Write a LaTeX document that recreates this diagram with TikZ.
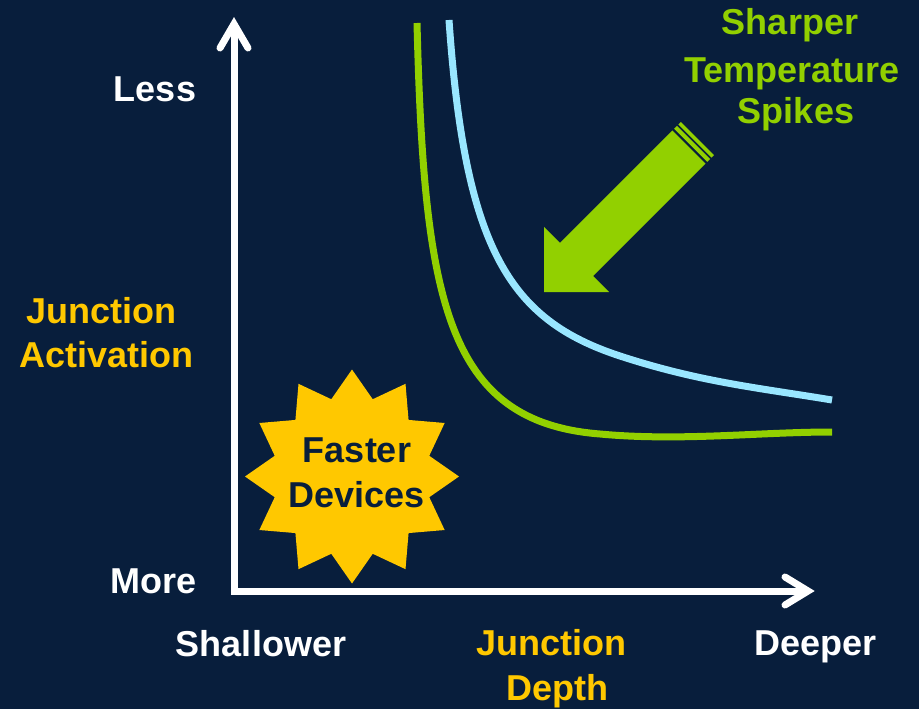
\documentclass[tikz,border=0pt]{standalone}
\usepackage{fontspec}
\setmainfont{Liberation Sans}
\definecolor{navy}{RGB}{8,30,60}
\definecolor{lime}{RGB}{146,208,0}
\definecolor{sky}{RGB}{153,230,255}
\definecolor{gold}{RGB}{255,200,0}
\begin{document}
\begin{tikzpicture}[x=1pt,y=-1pt,
  lbl/.style={font=\fontsize{36}{44}\selectfont\bfseries, inner sep=0pt, anchor=base},
  axisline/.style={white, line width=7pt, line join=miter},
  curve/.style={line width=7pt}]
% canvas
\fill[navy] (0,0) rectangle (919,709);
\useasboundingbox (0,0) rectangle (919,709);

% axes
\coordinate (ytip) at (234,24);
\coordinate (origin) at (234,591);
\coordinate (xtip) at (808,591);
\draw[axisline] (ytip) -- (origin) -- (xtip);
\draw[axisline, line cap=round] (220,48) -- (ytip) -- (248,48);
\draw[axisline, line cap=round] (785,577) -- (xtip) -- (785,605);

% response curves
\draw[curve, lime] (417,23) .. controls (424,300) and (446,422) .. (600,434)
  .. controls (680,441.5) and (760,432) .. (832,432);
\draw[curve, sky] (449,20) .. controls (465,250) and (510,320) .. (620,356)
  .. controls (700,382.2) and (760,388) .. (832,400);

% striped block arrow
\begin{scope}[shift={(544,292)}, rotate=45]
  \fill[lime] (0,0) -- (46,46) -- (46,23.5) -- (205,23.5) -- (205,-23.5) -- (46,-23.5) -- (46,-46) -- cycle;
  \fill[lime] (207.5,-23.5) rectangle (211.5,23.5);
  \fill[lime] (213.5,-23.5) rectangle (217,23.5);
\end{scope}

% starburst
\fill[gold, shift={(352,476.5)}] (90:107)
  \foreach \a in {0,30,...,330} { -- ({105+\a}:80) -- ({120+\a}:107) } -- cycle;
\node[lbl, text=navy] (faster) at (357,462) {Faster};
\node[lbl, text=navy] (devices) at (356.5,507) {Devices};

% axis labels
\node[lbl, white] (less) at (155,102) {Less};
\node[lbl, white] (more) at (153.5,593) {More};
\node[lbl, gold] (junctA) at (101.5,323) {Junction};
\node[lbl, gold] (activation) at (106.5,367) {Activation};
\node[lbl, white] (shallower) at (261,656) {Shallower};
\node[lbl, gold] (junctD) at (551,655) {Junction};
\node[lbl, gold] (depth) at (557,700) {Depth};
\node[lbl, white] (deeper) at (815.5,655) {Deeper};

% arrow caption
\node[lbl, lime] (sharper) at (790,35) {Sharper};
\node[lbl, lime] (temperature) at (792,82) {Temperature};
\node[lbl, lime] (spikes) at (796,124) {Spikes};
\end{tikzpicture}
\end{document}
